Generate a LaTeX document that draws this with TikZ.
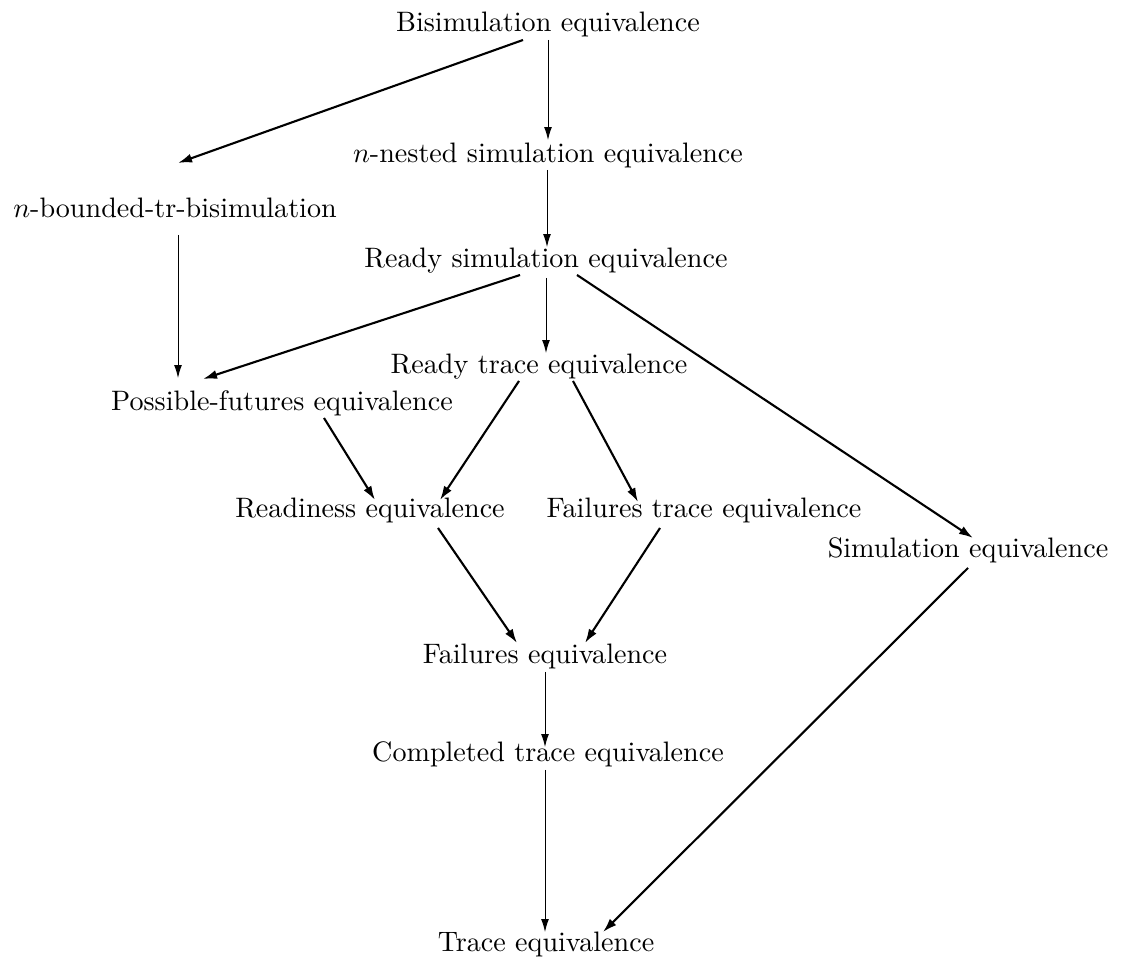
\documentclass[tikz,border=0pt]{standalone}
\usepackage{amsmath,amssymb}
\usepackage{tikz}
\usetikzlibrary{arrows.meta, positioning, calc}

\tikzset{
    eqv/.style={anchor=base, inner sep=0pt},
    vline/.style={-{Latex[length=4.6pt,width=2.8pt]}, line width=0.35pt},
    sline/.style={-{Latex[length=5pt,width=3.2pt]}, line width=0.75pt},
}

\begin{document}
\begin{tikzpicture}[x=0.0125cm, y=-0.0125cm]
        \useasboundingbox (0,0) rectangle (1122,958);

        \node[eqv] (bisim) at (548,32) {Bisimulation equivalence};
        \node[eqv] (nnested) at (548,163) {$n$-nested simulation equivalence};
        \node[eqv] (nbounded) at (175,218) {$n$-bounded-tr-bisimulation};
        \node[eqv] (readysim) at (546,268) {Ready simulation equivalence};
        \node[eqv] (readytrace) at (539,374) {Ready trace equivalence};
        \node[eqv] (posfut) at (282,411) {Possible-futures equivalence};
        \node[eqv] (readiness) at (370,518) {Readiness equivalence};
        \node[eqv] (failtrace) at (704,518) {Failures trace equivalence};
        \node[eqv] (sim) at (968,558) {Simulation equivalence};
        \node[eqv] (failures) at (545,664) {Failures equivalence};
        \node[eqv] (completed) at (548,762) {Completed trace equivalence};
        \node[eqv] (trace) at (546,952) {Trace equivalence};

        % straight down
        \path[vline]
        ($(bisim.base)+(0,8)$) edge ($(nnested.base)+(0,-23)$)
        ($(nnested.base)+(-1,7)$) edge ($(readysim.base)+(1,-21)$)
        ($(nbounded.base)+(3,17)$) edge ($(posfut.base)+(-104,-33)$)
        ($(readysim.base)+(0,10)$) edge ($(readytrace.base)+(7,-21)$)
        ($(failures.base)+(0,8)$) edge ($(completed.base)+(-3,-15)$)
        ($(completed.base)+(-3,8)$) edge ($(trace.base)+(-1,-20)$)
        ;

        % slanted
        \path[sline]
        ($(bisim.base)+(-25,8)$) edge ($(nbounded.base)+(3,-55)$)
        ($(readysim.base)+(-26,7)$) edge ($(posfut.base)+(-79,-32)$)
        ($(readysim.base)+(31,7)$) edge ($(sim.base)+(5,-20)$)
        ($(readytrace.base)+(-20,7)$) edge ($(readiness.base)+(70,-18)$)
        ($(readytrace.base)+(34,7)$) edge ($(failtrace.base)+(-66,-16)$)
        ($(posfut.base)+(42,7)$) edge ($(readiness.base)+(5,-18)$)
        ($(readiness.base)+(68,10)$) edge ($(failures.base)+(-28,-21)$)
        ($(failtrace.base)+(-44,10)$) edge ($(failures.base)+(40,-21)$)
        ($(sim.base)+(0,10)$) edge ($(trace.base)+(57,-20)$)
        ;
    \end{tikzpicture}
\end{document}
